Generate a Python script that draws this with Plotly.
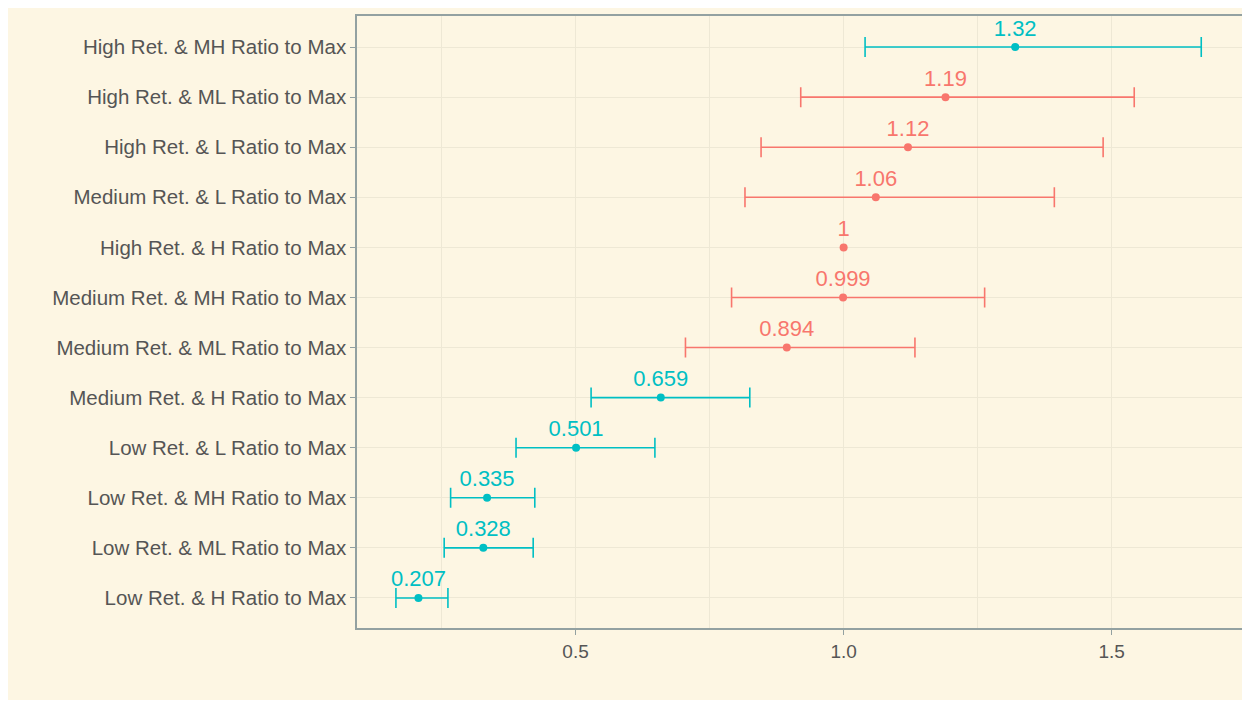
import plotly.graph_objects as go

# Data (bottom to top)
categories = [
    "Low Ret. & H Ratio to Max",
    "Low Ret. & ML Ratio to Max",
    "Low Ret. & MH Ratio to Max",
    "Low Ret. & L Ratio to Max",
    "Medium Ret. & H Ratio to Max",
    "Medium Ret. & ML Ratio to Max",
    "Medium Ret. & MH Ratio to Max",
    "High Ret. & H Ratio to Max",
    "Medium Ret. & L Ratio to Max",
    "High Ret. & L Ratio to Max",
    "High Ret. & ML Ratio to Max",
    "High Ret. & MH Ratio to Max",
]
estimate = [0.207, 0.328, 0.335, 0.501, 0.659, 0.894, 0.999, 1.0, 1.06, 1.12, 1.19, 1.32]
lower = [0.165, 0.255, 0.267, 0.389, 0.529, 0.705, 0.791, None, 0.816, 0.846, 0.920, 1.040]
upper = [0.262, 0.421, 0.424, 0.648, 0.825, 1.133, 1.263, None, 1.393, 1.484, 1.542, 1.667]
labels = ["0.207", "0.328", "0.335", "0.501", "0.659", "0.894", "0.999", "1", "1.06", "1.12", "1.19", "1.32"]
group = ["A", "A", "A", "A", "A", "B", "B", "B", "B", "B", "B", "A"]

colors = {"A": "#00BFC4", "B": "#F8766D"}
font_fam = "Liberation Sans, Arial, sans-serif"

fig = go.Figure()
for g in ["B", "A"]:
    for has_ci in [True, False]:
        idx = [i for i, v in enumerate(group) if v == g and (lower[i] is not None) == has_ci]
        if not idx:
            continue
        err = None
        if has_ci:
            err = dict(type="data", symmetric=False,
                       array=[upper[i] - estimate[i] for i in idx],
                       arrayminus=[estimate[i] - lower[i] for i in idx],
                       color=colors[g], thickness=1.6, width=10)
        fig.add_trace(go.Scatter(
            x=[estimate[i] for i in idx], y=[categories[i] for i in idx],
            mode="markers+text",
            text=[labels[i] for i in idx],
            textposition="top center",
            textfont=dict(family=font_fam, size=22, color=colors[g]),
            marker=dict(color=colors[g], size=8),
            error_x=err,
            showlegend=False, cliponaxis=False,
        ))

bg = "#FDF6E3"
grid = "#EEE8D5"
fig.update_layout(
    width=1242, height=692,
    paper_bgcolor=bg, plot_bgcolor=bg,
    margin=dict(l=349, r=6, t=6, b=72),
    font=dict(family=font_fam, size=20, color="#555555"),
    xaxis=dict(
        range=[0.0924, 1.743],
        tickvals=[0.5, 1.0, 1.5], ticktext=["0.5", "1.0", "1.5"],
        showgrid=True, gridcolor=grid, gridwidth=1.2,
        minor=dict(tickvals=[0.25, 0.75, 1.25], showgrid=True, gridcolor=grid, gridwidth=0.8),
        ticks="outside", ticklen=5, tickcolor="#93A1A1", tickwidth=1.2,
        tickfont=dict(size=19, color="#555555"),
        showline=True, linecolor="#93A1A1", linewidth=1.5, mirror=True,
        zeroline=False,
    ),
    yaxis=dict(
        type="category", categoryorder="array", categoryarray=categories,
        range=[-0.6, 11.62],
        showgrid=True, gridcolor=grid, gridwidth=1.2,
        ticks="outside", ticklen=5, tickcolor="#93A1A1", tickwidth=1.2,
        tickfont=dict(size=20.5, color="#555555"),
        showline=True, linecolor="#93A1A1", linewidth=1.5, mirror=True,
        zeroline=False,
    ),
)

fig.write_html("out.html")
